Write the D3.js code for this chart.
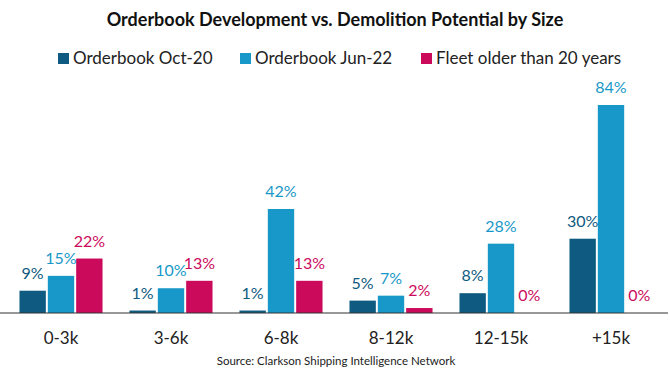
<!DOCTYPE html>
<html>
<head>
<meta charset="utf-8">
<script src="https://cdn.jsdelivr.net/npm/d3@7"></script>
<style>
  body { margin: 0; background: #fff; }
  svg { display: block; font-family: Lato, "Open Sans", sans-serif; }
</style>
</head>
<body>
<svg class="chart"></svg>
<script>
var categories = ["0-3k", "3-6k", "6-8k", "8-12k", "12-15k", "+15k"];
var seriesNames = ["Orderbook Oct-20", "Orderbook Jun-22", "Fleet older than 20 years"];
var oct20 = [9, 1, 1, 5, 8, 30];
var jun22 = [15, 10, 42, 7, 28, 84];
var older20 = [22, 13, 13, 2, 0, 0];
var colors = ["#0f5a80", "#1898c8", "#cc0a5c"];

var width = 670, height = 376;
var baseY = 313;

var svg = d3.select(".chart")
    .attr("width", width)
    .attr("height", height);

// title
svg.append("text")
    .attr("x", 335)
    .attr("y", 26)
    .attr("text-anchor", "middle")
    .style("font-size", "18px")
    .style("font-weight", "bold")
    .attr("fill", "#111")
    .text("Orderbook Development vs. Demolition Potential by Size");

// legend
var legendX = [58, 240, 421];
var leg = svg.selectAll(".leg")
    .data(seriesNames)
  .enter().append("g")
    .attr("class", "leg")
    .attr("transform", function(d, i) { return "translate(" + legendX[i] + ",0)"; });
leg.append("rect")
    .attr("y", 53)
    .attr("width", 11)
    .attr("height", 11)
    .attr("fill", function(d, i) { return colors[i]; });
leg.append("text")
    .attr("x", 15)
    .attr("y", 64)
    .style("font-size", "17px")
    .attr("fill", "#222")
    .text(function(d) { return d; });

var x0 = d3.scaleBand()
    .domain(categories)
    .range([6, 666])
    .paddingInner(0.245)
    .paddingOuter(0.1225);

var x1 = d3.scaleBand()
    .domain([0, 1, 2])
    .range([0, x0.bandwidth()])
    .paddingInner(0.07);

var y = d3.scaleLinear()
    .domain([0, 84])
    .range([baseY, 105]);

var rows = [];
categories.forEach(function(c, i) {
  [oct20[i], jun22[i], older20[i]].forEach(function(v, s) {
    rows.push({cat: c, s: s, v: v});
  });
});

var bars = svg.append("g");
bars.selectAll("rect")
    .data(rows)
  .enter().append("rect")
    .attr("x", function(d) { return x0(d.cat) + x1(d.s); })
    .attr("y", function(d) { return y(d.v); })
    .attr("width", x1.bandwidth())
    .attr("height", function(d) { return baseY - y(d.v); })
    .attr("fill", function(d) { return colors[d.s]; });

bars.selectAll("text")
    .data(rows)
  .enter().append("text")
    .attr("x", function(d) { return x0(d.cat) + x1(d.s) + x1.bandwidth() / 2; })
    .attr("y", function(d) { return y(d.v) - 12; })
    .attr("text-anchor", "middle")
    .style("font-size", "16px")
    .attr("fill", function(d) { return colors[d.s]; })
    .text(function(d) { return d.v + "%"; });

// axis
var xAxis = d3.axisBottom(x0).tickSize(0).tickPadding(19);
var ax = svg.append("g")
    .attr("transform", "translate(0," + baseY + ")")
    .call(xAxis);
ax.select(".domain").attr("d", "M0,0H668").attr("stroke", "#333").attr("stroke-width", 1.2);
ax.selectAll("text")
    .style("font-size", "17px")
    .style("font-family", "Lato, 'Open Sans', sans-serif")
    .attr("fill", "#222");

svg.append("text")
    .attr("x", 336)
    .attr("y", 365)
    .attr("text-anchor", "middle")
    .style("font-size", "11.5px")
    .attr("fill", "#222")
    .text("Source: Clarkson Shipping Intelligence Network");
</script>
</body>
</html>
